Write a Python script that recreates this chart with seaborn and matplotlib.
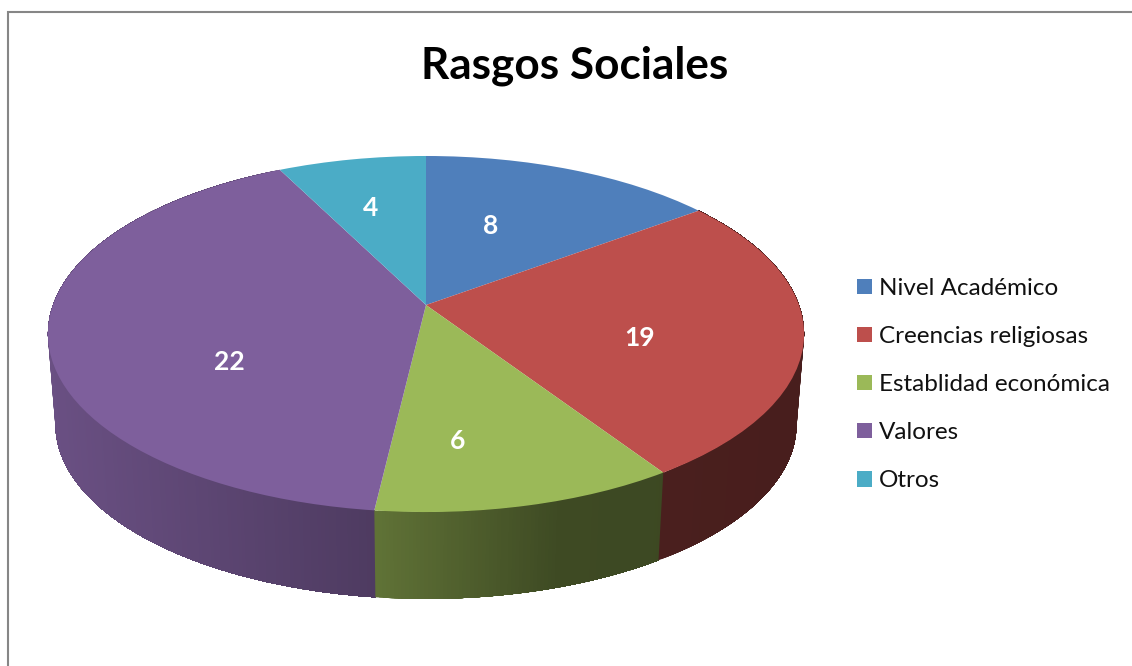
import numpy as np
import matplotlib
matplotlib.use("Agg")
import matplotlib.pyplot as plt
from matplotlib.patches import Patch
from matplotlib.transforms import Transform
import seaborn as sns

title = "Rasgos Sociales"
categories = ["Nivel Académico", "Creencias religiosas", "Establidad económica", "Valores", "Otros"]
# Slice sizes as drawn in the picture, and the numbers printed on them (they differ for the red slice).
slice_sizes = [8, 14, 6, 22, 4]
printed_labels = ["8", "19", "6", "22", "4"]
colors = ["#4f7fbb", "#bd4f4c", "#9bb958", "#7e5f9c", "#4bacc6"]

sns.set_theme(style="white")
plt.rcParams["font.family"] = ["Lato", "DejaVu Sans"]

# Projection of the tilted unit disc on to the canvas (canvas units are pixels).
CX, CY, KX, KY, PERSP = 426.0, 305.0, 373.0, 173.3, 0.163
DEPTH, SHRINK = 91.0, 0.98


def project(x, y):
    d = 1 + PERSP * y
    return CX + KX * x / d, CY - KY * y / d


class Tilt(Transform):
    input_dims = output_dims = 2
    is_affine = False

    def transform_non_affine(self, values):
        v = np.asarray(values, float)
        return np.column_stack(project(v[:, 0], v[:, 1]))


fig = plt.figure(figsize=(11.32, 6.66), dpi=100, facecolor="white")
ax = fig.add_axes([0, 0, 1, 1])

wedges, _ = ax.pie(slice_sizes, colors=colors, startangle=90, counterclock=False,
                   wedgeprops={"linewidth": 0, "zorder": 3})
tilt = Tilt()
for w in wedges:
    w.set_transform(tilt + ax.transData)
ax.set_aspect("auto")
ax.set_xlim(0, 1132)
ax.set_ylim(666, 0)
ax.set_frame_on(False)

# Outer wall of the cylinder, shaded from left to right. Every strip runs under
# the next one, so that no seams show between them.
edges = np.concatenate([[0], np.cumsum(slice_sizes)]) / np.sum(slice_sizes) * 360


def rim(deg):
    t = np.radians(deg)
    return project(np.sin(t), np.cos(t))


for i in [3, 2, 1]:  # left to right along the visible wall: purple, green, red
    lo, hi = edges[i], edges[i + 1]
    base = np.array(matplotlib.colors.to_rgb(colors[i]))
    steps = np.linspace(hi, lo, int((hi - lo) * 2) + 1)
    for a, b in zip(steps[:-1], steps[1:]):
        mx = (rim(a)[0] + rim(b)[0]) / 2
        f = np.interp(mx, [50, 375, 560, 805], [0.84, 0.62, 0.40, 0.38])
        ang = np.linspace(a, lo, 60)
        tops = np.array([rim(v) for v in ang])
        bots = np.column_stack([CX + SHRINK * (tops[:, 0] - CX),
                                CY + SHRINK * (tops[:, 1] - CY) + DEPTH])
        poly = np.vstack([tops, bots[::-1]])
        ax.fill(poly[:, 0], poly[:, 1], color=base * f, lw=0, zorder=2)

# Value labels, placed in the disc's own polar coordinates.
label_radius = [0.53, 0.585, 0.695, 0.588, 0.644]
label_turn = [-6, 7.8, 7.2, -21.5, -1.3]
mids = (edges[:-1] + edges[1:]) / 2
for txt, m, r, s in zip(printed_labels, mids, label_radius, label_turn):
    t = np.radians(m + s)
    lx, ly = project(r * np.sin(t), r * np.cos(t))
    ax.text(lx, ly + 1, txt, color="white", fontsize=19, fontweight="bold",
            ha="center", va="center", zorder=5)

ax.text(575, 66, title, fontsize=31.8, fontweight="bold", color="black",
        ha="center", va="center", zorder=5)

handles = [Patch(facecolor=c, edgecolor="none") for c in colors]
ax.legend(handles, categories, loc="upper left", bbox_to_anchor=(857, 278),
          bbox_transform=ax.transData, frameon=False, fontsize=17.5, borderpad=0,
          borderaxespad=0, handlelength=0.617, handleheight=0.617, handletextpad=0.29,
          labelspacing=1.113, labelcolor="#111111")

# Only the top and left edges of the chart's frame are in the picture.
ax.plot([7.5, 7.5, 1132], [666, 12, 12], color="#868686", lw=1.5, zorder=6,
        solid_joinstyle="miter", clip_on=False)

fig.savefig("out.png", dpi=100, facecolor="white")
